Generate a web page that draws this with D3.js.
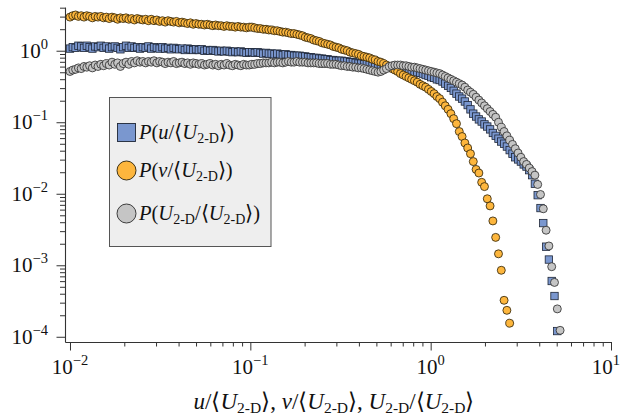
<!DOCTYPE html>
<html>
<head>
<meta charset="utf-8">
<script src="https://cdn.jsdelivr.net/npm/d3@7"></script>
<style>
  html, body { margin: 0; padding: 0; background: #fff; }
  svg { display: block; }
  text { font-family: "Liberation Serif", "Times New Roman", serif; fill: #111; }
</style>
</head>
<body>
<svg id="chart" width="621" height="420"></svg>
<script>
// ---------------- data (log10 of probability density) ----------------
// logarithmic histogram bins: first bin centre and step, in decades
const binStartLog = -2;
const binStepLog = 0.01553;

const seriesNames = ["u", "v", "U"];

const logP_u = [
  0.03,0.05,0.04,0.07,0.06,0.04,0.07,0.05,0.03,0.06,0.05,
  0.07,0.04,0.06,0.03,0.05,0.06,0.04,0.02,0.05,0.07,0.04,
  0.06,0.04,0.05,0.03,0.05,0.04,0.06,0.03,0.05,0.04,0.03,
  0.05,0.03,0.04,0.02,0.04,0.03,0.02,0.03,0.01,0.03,0.02,0.01,0.02,0.01,
  0.02,0.00,0.01,0.00,0.01,0.00,-0.01,0.00,-0.01,0.00,-0.01,-0.02,-0.01,-0.02,-0.01,-0.02,-0.03,-0.02,
  -0.02,-0.03,-0.02,-0.03,-0.04,-0.03,-0.04,-0.04,-0.05,-0.04,-0.05,-0.06,-0.05,-0.06,-0.06,-0.07,-0.07,-0.07,
  -0.08,-0.08,-0.09,-0.09,-0.10,-0.10,-0.11,-0.11,-0.12,-0.12,-0.13,-0.13,-0.14,-0.14,-0.14,-0.15,-0.15,-0.16,
  -0.16,-0.17,-0.18,-0.18,-0.19,-0.19,-0.20,-0.21,-0.21,-0.22,-0.22,-0.23,
  -0.23,-0.24,-0.24,-0.25,-0.25,-0.26,
  -0.27,-0.28,-0.28,-0.29,-0.30,-0.30,-0.31,
  -0.32,-0.34,-0.35,-0.37,-0.38,-0.40,-0.41,-0.43,
  -0.46,-0.49,-0.52,-0.56,-0.60,-0.64,-0.67,-0.71,
  -0.76,-0.82,-0.88,-0.92,-0.96,-0.99,-1.03,
  -1.06,-1.10,-1.15,-1.19,-1.23,-1.27,-1.30,-1.34,
  -1.39,-1.44,-1.49,-1.52,-1.55,-1.59,-1.62,-1.67,-1.74,
  -1.86,-2.02,-2.20,-2.41,-2.74,-2.92,-3.22,-3.43,-3.92
];

const logP_v = [
  0.47,0.49,0.50,0.48,0.49,0.47,0.49,0.48,0.46,0.48,0.47,
  0.48,0.46,0.47,0.45,0.47,0.46,0.44,0.46,0.45,0.46,0.44,0.45,0.43,0.45,0.44,0.43,0.44,0.42,
  0.44,0.42,0.43,0.41,0.42,0.40,0.42,0.41,0.40,0.41,0.39,0.40,0.39,0.38,0.39,0.37,0.38,0.37,
  0.37,0.36,0.37,0.36,0.35,0.36,0.35,0.35,0.34,0.35,0.34,0.34,0.33,0.34,0.33,0.33,0.32,0.33,
  0.33,0.32,0.31,0.31,0.30,0.30,0.29,0.29,0.28,0.28,0.27,0.26,0.26,0.25,0.24,0.24,0.23,0.22,
  0.21,0.19,0.18,0.17,0.15,0.14,0.13,0.11,0.10,0.09,0.08,0.06,
  0.05,0.04,0.02,0.01,0.00,-0.02,-0.03,-0.04,-0.05,-0.07,-0.08,-0.09,
  -0.10,-0.12,-0.13,-0.15,-0.16,-0.18,
  -0.20,-0.22,-0.25,-0.27,-0.29,-0.32,
  -0.34,-0.36,-0.38,-0.40,-0.42,-0.44,-0.47,
  -0.49,-0.51,-0.54,-0.57,-0.60,-0.64,-0.67,
  -0.72,-0.77,-0.82,-0.88,-0.95,-1.02,
  -1.13,-1.20,-1.29,-1.36,-1.44,-1.55,-1.66,-1.71,-1.84,-1.90,
  -2.07,-2.17,-2.38,-2.61,-2.84,-3.07,-3.49,-3.63,-3.81
];

const logP_U = [
  -0.29,-0.27,-0.26,-0.24,-0.25,-0.22,-0.23,-0.21,-0.24,-0.20,-0.22,-0.19,-0.21,-0.18,-0.20,
  -0.16,-0.19,-0.17,-0.22,-0.18,-0.16,-0.19,-0.15,-0.17,-0.14,-0.16,-0.15,-0.17,-0.15,
  -0.16,-0.14,-0.17,-0.15,-0.16,-0.18,-0.16,-0.17,-0.15,-0.18,-0.17,-0.16,-0.18,-0.17,-0.19,-0.17,-0.18,-0.19,
  -0.18,-0.20,-0.19,-0.18,-0.20,-0.19,-0.21,-0.19,-0.20,-0.18,-0.20,-0.21,-0.19,-0.20,-0.21,-0.19,-0.20,-0.20,
  -0.19,-0.19,-0.18,-0.18,-0.17,-0.17,-0.17,
  -0.16,-0.17,-0.16,-0.16,-0.17,-0.16,-0.15,-0.16,-0.16,-0.15,-0.16,
  -0.16,-0.16,-0.17,-0.17,-0.17,-0.17,-0.18,-0.18,-0.18,-0.18,-0.19,-0.19,
  -0.19,-0.20,-0.21,-0.21,-0.22,-0.22,
  -0.23,-0.23,-0.24,-0.24,-0.25,-0.26,
  -0.27,-0.28,-0.29,-0.30,-0.29,
  -0.27,-0.25,-0.22,-0.21,-0.20,-0.20,-0.20,
  -0.21,-0.21,-0.22,-0.23,-0.23,-0.24,-0.25,
  -0.26,-0.27,-0.28,-0.29,-0.30,-0.31,-0.32,
  -0.34,-0.36,-0.38,
  -0.40,-0.42,-0.44,-0.46,
  -0.48,-0.51,
  -0.55,-0.58,-0.61,-0.65,
  -0.69,-0.73,-0.77,
  -0.81,-0.85,-0.89,-0.93,
  -1.00,-1.07,
  -1.13,-1.19,-1.25,
  -1.31,-1.37,-1.43,-1.49,
  -1.55,-1.59,-1.64,-1.69,-1.74,
  -1.87,-2.01,-2.21,-2.51,-2.73,-3.02,-3.24,-3.61,-3.91
];

const xTickValues = [1e-2, 1e-1, 1e0, 1e1];
const xTickExp = ["\u22122", "\u22121", "0", "1"];
const yTickValues = [1e0, 1e-1, 1e-2, 1e-3, 1e-4];
const yTickExp = ["0", "\u22121", "\u22122", "\u22123", "\u22124"];

// ---------------- chart ----------------
const svg = d3.select("#chart");

const x = d3.scaleLog().domain([Math.pow(10, -2.0277), 10]).range([65, 611]);
const y = d3.scaleLog().domain([Math.pow(10, -4.073), Math.pow(10, 0.6115)]).range([342, 7]);

function toPoints(logs) {
  return logs.map((lp, i) => ({ x: Math.pow(10, binStartLog + i * binStepLog), p: Math.pow(10, lp) }));
}

const styles = {
  u: { fill: "#7a97cf", stroke: "#1d2535", shape: "square" },
  v: { fill: "#fdb63d", stroke: "#2a2008", shape: "circle" },
  U: { fill: "#c5c5c5", stroke: "#2a2a2a", shape: "circle" }
};
const dataMap = { u: toPoints(logP_u), v: toPoints(logP_v), U: toPoints(logP_U) };

function minorTicks(lo, hi) {
  const out = [];
  for (let e = lo; e < hi; e++) for (let m = 1; m <= 9; m++) out.push(m * Math.pow(10, e));
  out.push(Math.pow(10, hi));
  return out;
}
const xAll = minorTicks(-2, 1);
const yAll = minorTicks(-4, 0).concat([2, 3, 4]);

const isMajor = v => Math.abs(Math.log10(v) - Math.round(Math.log10(v))) < 1e-9;

// x axis
const gx = svg.append("g").attr("transform", "translate(0,342)")
  .call(d3.axisBottom(x).tickValues(xAll).tickSizeOuter(0).tickFormat(() => ""));
gx.select(".domain").attr("stroke", "#333").attr("stroke-width", 1.1);
gx.selectAll(".tick line").attr("stroke", "#333").attr("stroke-width", 1)
  .attr("y2", d => isMajor(d) ? 8.5 : 4.5);

// y axis
const gy = svg.append("g").attr("transform", "translate(65,0)")
  .call(d3.axisLeft(y).tickValues(yAll).tickSizeOuter(0).tickFormat(() => ""));
gy.select(".domain").attr("stroke", "#333").attr("stroke-width", 1.1);
gy.selectAll(".tick line").attr("stroke", "#333").attr("stroke-width", 1)
  .attr("x2", d => isMajor(d) ? -8.5 : -5);

// tick labels
xTickValues.forEach((v, i) => {
  const last = i === xTickValues.length - 1;
  const t = svg.append("text").attr("x", last ? 620 : x(v)).attr("y", 374)
    .attr("text-anchor", last ? "end" : "middle")
    .style("font-size", "21px");
  t.append("tspan").text("10");
  t.append("tspan").attr("dy", -9).style("font-size", "14.5px").text(xTickExp[i]);
});
yTickValues.forEach((v, i) => {
  const t = svg.append("text").attr("x", 48).attr("y", y(v) + 7).attr("text-anchor", "end")
    .style("font-size", "21px");
  t.append("tspan").text("10");
  t.append("tspan").attr("dy", -9).style("font-size", "14.5px").text(yTickExp[i]);
});

// markers
function drawSeries(key) {
  const st = styles[key];
  const g = svg.append("g");
  const pts = dataMap[key];
  if (st.shape === "square") {
    const s = 7.4;
    g.selectAll("rect").data(pts).join("rect")
      .attr("x", d => x(d.x) - s / 2).attr("y", d => y(d.p) - s / 2)
      .attr("width", s).attr("height", s)
      .attr("fill", st.fill).attr("stroke", st.stroke).attr("stroke-width", 0.8);
  } else {
    g.selectAll("circle").data(pts).join("circle")
      .attr("cx", d => x(d.x)).attr("cy", d => y(d.p)).attr("r", 4)
      .attr("fill", st.fill).attr("stroke", st.stroke).attr("stroke-width", 0.8);
  }
}
seriesNames.forEach(drawSeries);

// legend
const lg = svg.append("g");
lg.append("rect").attr("x", 109.5).attr("y", 97.5).attr("width", 161.5).attr("height", 149)
  .attr("fill", "#eeeeee").attr("stroke", "#555").attr("stroke-width", 1);

const legendRows = [
  { key: "u", cy: 132.5, parts: [["P","i"],["(",""],["u","i"],["/\u27E8",""],["U","i"],["2-D","s"],["\u27E9)",""]] },
  { key: "v", cy: 170.5, parts: [["P","i"],["(",""],["v","i"],["/\u27E8",""],["U","i"],["2-D","s"],["\u27E9)",""]] },
  { key: "U", cy: 213.5, parts: [["P","i"],["(",""],["U","i"],["2-D","s"],["/\u27E8",""],["U","i"],["2-D","s"],["\u27E9)",""]] }
];
function writeParts(t, parts, subFs, subDy) {
  let sub = false;
  parts.forEach(([s, k]) => {
    const ts = t.append("tspan").text(s);
    if (k === "i") ts.style("font-style", "italic");
    if (k === "s") { ts.style("font-size", subFs + "px").attr("dy", subDy); sub = true; }
    else if (sub) { ts.attr("dy", -subDy); sub = false; }
  });
}
legendRows.forEach(r => {
  const st = styles[r.key];
  if (st.shape === "square") {
    lg.append("rect").attr("x", 117.5).attr("y", r.cy - 9).attr("width", 18).attr("height", 18)
      .attr("fill", st.fill).attr("stroke", st.stroke).attr("stroke-width", 0.9);
  } else {
    lg.append("circle").attr("cx", 126.5).attr("cy", r.cy).attr("r", 9.5)
      .attr("fill", st.fill).attr("stroke", st.stroke).attr("stroke-width", 0.9);
  }
  const t = lg.append("text").attr("x", 139).attr("y", r.cy + 6.5).style("font-size", "20.5px");
  writeParts(t, r.parts, 14, 4);
});

// x axis title
const xt = svg.append("text").attr("x", 334).attr("y", 409).attr("text-anchor", "middle")
  .style("font-size", "23px");
writeParts(xt, [["u","i"],["/\u27E8",""],["U","i"],["2-D","s"],["\u27E9, ",""],["v","i"],["/\u27E8",""],["U","i"],["2-D","s"],["\u27E9, ",""],["U","i"],["2-D","s"],["/\u27E8",""],["U","i"],["2-D","s"],["\u27E9",""]], 15.5, 4);
</script>
</body>
</html>
